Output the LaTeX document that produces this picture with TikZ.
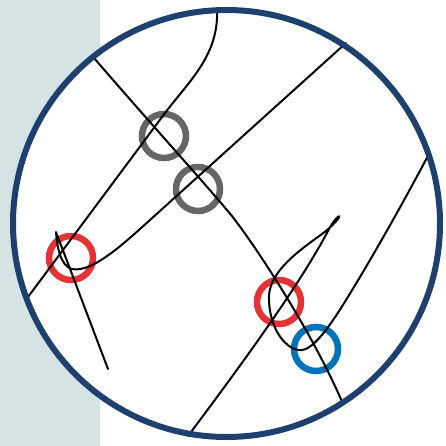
\documentclass[tikz,border=0pt]{standalone}
\usepackage{xcolor}
\usepackage{tikz}
\usetikzlibrary{positioning}

\definecolor{rimblue}{RGB}{29,64,110}
\definecolor{paper}{RGB}{213,227,229}
\definecolor{ringgray}{RGB}{102,102,102}
\definecolor{ringred}{RGB}{230,50,52}
\definecolor{ringblue}{RGB}{0,114,186}

\begin{document}
\begin{tikzpicture}[
  x=1pt, y=-1pt,
  knot/.style={draw=black, line width=2pt, line join=round, line cap=round},
  ring/.style={circle, draw, line width=6.5pt, minimum size=44pt, inner sep=0pt},
  rim/.style={draw=rimblue, line width=6pt},
]
\useasboundingbox (0,0) rectangle (445,446);

% Background strip and disc
\fill[paper] (0,0) rectangle (100,446);
\coordinate (c) at (226.5,223.5);
\fill[white] (c) circle[radius=213.5];

% Marked crossings
\node[ring, draw=ringgray] (g1) at (164,136) {};
\node[ring, draw=ringgray] (g2) at (198,189) {};
\node[ring, draw=ringred] (r1) at (71,258) {};
\node[ring, draw=ringred] (r2) at (279,302) {};
\node[ring, draw=ringblue] (b1) at (316,349) {};

% Strands
\draw[knot] (94,58) .. controls (150,123) and (202,180) .. (232,216)
  .. controls (262,255) and (315,338) .. (343,404);
\draw[knot] (217,9) .. controls (219,55) and (190,80) .. (165,113) -- (28,297);
\draw[knot] (346,43) -- (140,229) .. controls (110,256) and (88,272) .. (72,269)
  .. controls (60,266) and (57,245) .. (56,232) -- (108,369);
\draw[knot] (188,436) .. controls (245,360) and (300,284) .. (328,231)
  .. controls (340,208) and (348,214) .. (322,234)
  .. controls (300,250) and (271,270) .. (269,295)
  .. controls (268,330) and (288,352) .. (302,350)
  .. controls (318,348) and (340,310) .. (360,277)
  .. controls (385,235) and (410,190) .. (430,152);

% Rim
\draw[rim] (c) circle[radius=213.5];

\end{tikzpicture}
\end{document}
